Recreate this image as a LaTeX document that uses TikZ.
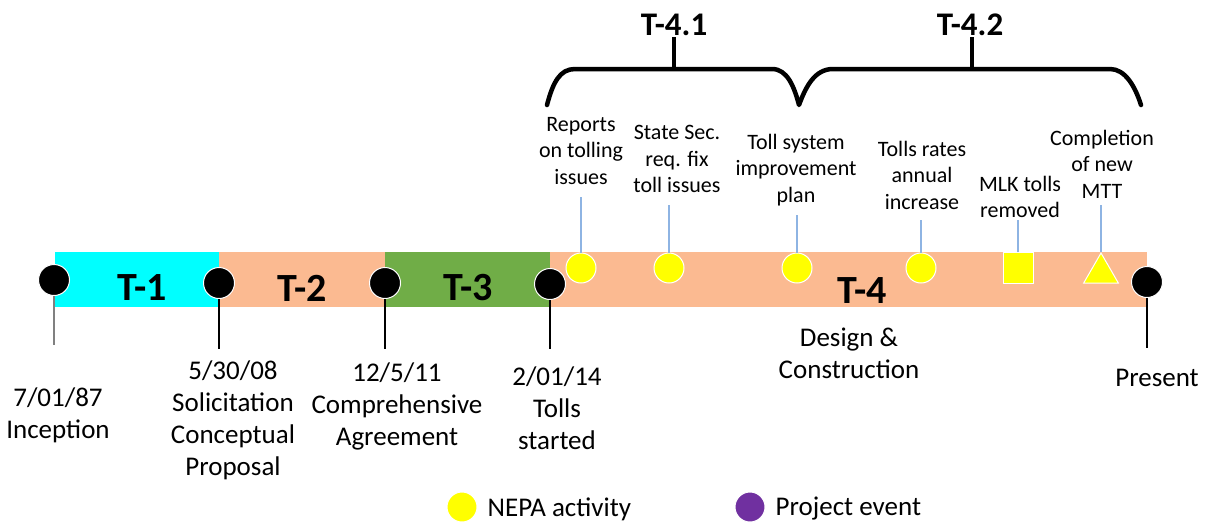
\documentclass[tikz,border=0pt]{standalone}
\usepackage{fontspec}
\setmainfont{Carlito}
\usetikzlibrary{positioning,shapes.geometric}

\definecolor{periodcyan}{HTML}{00FFFF}
\definecolor{periodsalmon}{HTML}{FBBA91}
\definecolor{periodgreen}{HTML}{70AD47}
\definecolor{nepayellow}{HTML}{FFFF00}
\definecolor{eventpurple}{HTML}{7030A0}
\definecolor{stemblue}{HTML}{8EB4E3}

\newcommand{\bigtext}{\fontsize{27}{32}\selectfont}
\newcommand{\smalltext}{\fontsize{22}{26.5}\selectfont}

\begin{document}
\begin{tikzpicture}[x=1pt, y=-1pt, every node/.style={inner sep=0pt, font=\bigtext},
  period/.style={font=\fontsize{40}{48}\selectfont\bfseries},
  phase/.style={font=\fontsize{33}{40}\selectfont\bfseries},
  milestone/.style={circle, fill=black, draw=white, line width=1pt, minimum size=31pt},
  nepa/.style={fill=nepayellow, draw=white, line width=1pt},
  datestem/.style={line width=1.3pt},
  bluestem/.style={stemblue, line width=1.2pt},
  brace/.style={line width=4.5pt, line cap=round, line join=round}]
  \useasboundingbox (0,0) rectangle (1206,523);

  \fill[periodcyan] (55,252) rectangle (219,307);
  \fill[periodsalmon] (219,252) rectangle (385,307);
  \fill[periodgreen] (385,252) rectangle (550,307);
  \fill[periodsalmon] (550,252) rectangle (1147,307);

  \node[period] (t1) at (142,288) {T-1};
  \node[period] (t2) at (302,288) {T-2};
  \node[period] (t3) at (468,288) {T-3};
  \node[period] (t4) at (862,291) {T-4};
  \node[align=center] (t4text) at (849,353) {Design \&\\Construction};

  % milestones on the bar
  \coordinate (m0end) at (54,345);
  \coordinate (m1end) at (219,349);
  \coordinate (m2end) at (385,349);
  \coordinate (m3end) at (550,349);
  \coordinate (m4end) at (1147,348);
  \draw[datestem, black!50] (54,280) -- (m0end);
  \draw[datestem] (219,283) -- (m1end);
  \draw[datestem] (385,283) -- (m2end);
  \draw[datestem] (550,284) -- (m3end);
  \draw[datestem] (1147,282) -- (m4end);
  \node[milestone] (m0) at (54,280) {};
  \node[milestone] (m1) at (219,283) {};
  \node[milestone] (m2) at (385,283) {};
  \node[milestone] (m3) at (550,284) {};
  \node[milestone] (m4) at (1147,282) {};

  \node[align=center] (d0) at (58,415) {7/01/87\\Inception};
  \node[align=center] (d1) at (233,420) {5/30/08\\Solicitation\\Conceptual\\Proposal};
  \node[align=center] (d2) at (397,406) {12/5/11\\Comprehensive\\Agreement};
  \node[align=center] (d3) at (557,408) {2/01/14\\Tolls\\started};
  \node (d4) at (1157,378) {Present};

  % NEPA activities
  \node[nepa, circle, minimum size=30pt] (n1) at (581,268) {};
  \node[nepa, circle, minimum size=30pt] (n2) at (669,268) {};
  \node[nepa, circle, minimum size=30pt] (n3) at (797,268) {};
  \node[nepa, circle, minimum size=30pt] (n4) at (921,268) {};
  \node[nepa, rectangle, minimum width=30pt, minimum height=31pt] (n5) at (1018,268) {};
  \node[nepa, regular polygon, regular polygon sides=3, minimum size=40pt] (n6) at (1101,273) {};

  \node[align=center, font=\smalltext] (a1) at (581,151) {Reports\\on tolling\\issues};
  \node[align=center, font=\smalltext] (a2) at (677,159) {State Sec.\\req. fix\\toll issues};
  \node[align=center, font=\smalltext] (a3) at (796,170) {Toll system\\improvement\\plan};
  \node[align=center, font=\smalltext] (a4) at (922,175) {Tolls rates\\annual\\increase};
  \node[align=center, font=\smalltext] (a5) at (1020,197) {MLK tolls\\removed};
  \node[align=center, font=\smalltext] (a6) at (1102,164) {Completion\\of new\\MTT};

  \coordinate (s1) at (581,197);
  \coordinate (s2) at (669,205);
  \coordinate (s3) at (797,215);
  \coordinate (s4) at (921,220);
  \coordinate (s5) at (1018,220);
  \coordinate (s6) at (1101,205);
  \draw[bluestem] (n1.north) -- (s1);
  \draw[bluestem] (n2.north) -- (s2);
  \draw[bluestem] (n3.north) -- (s3);
  \draw[bluestem] (n4.north) -- (s4);
  \draw[bluestem] (n5.north) -- (s5);
  \draw[bluestem] (n6.north) -- (s6);

  % sub-phases of T-4
  \draw[brace] (547,105) .. controls (553,82) and (560,69) .. (575,69) -- (772,69)
    .. controls (787,69) and (794,86) .. (799,105)
    .. controls (806,86) and (815,69) .. (833,69) -- (1110,69)
    .. controls (1125,69) and (1135,86) .. (1141,105);
  \node[phase] (t41) at (674,25) {T-4.1};
  \node[phase] (t42) at (970,25) {T-4.2};
  \coordinate (b1) at (674,69);
  \coordinate (b2) at (972,69);
  \draw[brace, line cap=butt] (b1) -- (674,37);
  \draw[brace, line cap=butt] (b2) -- (972,37);

  % legend
  \node[nepa, circle, minimum size=30pt] (keynepa) at (462,507) {};
  \node[right=10pt of keynepa, yshift=-2pt] (keynepatext) {NEPA activity};
  \node[circle, fill=eventpurple, draw=white, line width=1pt, minimum size=30pt] (keyevent) at (750,507) {};
  \node[right=10pt of keyevent, yshift=-2pt] (keyeventtext) {Project event};
\end{tikzpicture}
\end{document}
